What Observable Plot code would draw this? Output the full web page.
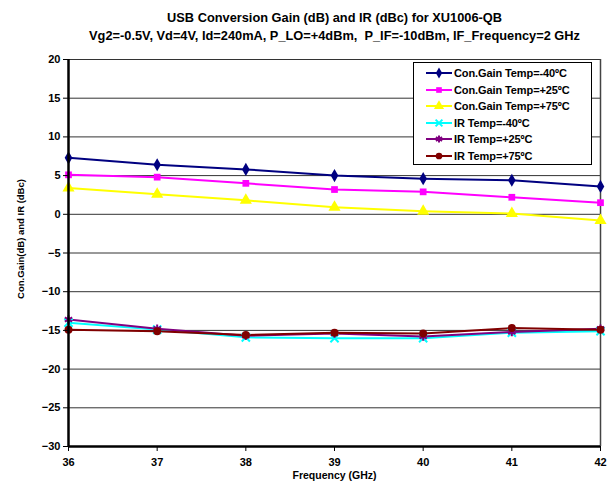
<!DOCTYPE html>
<html><head><meta charset="utf-8">
<script src="https://cdn.jsdelivr.net/npm/d3@7"></script>
<script src="https://cdn.jsdelivr.net/npm/@observablehq/plot@0.6"></script>
<style>
body{margin:0;background:#fff;font-family:"Liberation Sans",sans-serif;}
#wrap{position:relative;width:607px;height:488px;}
#legend{position:absolute;left:413px;top:62px;width:177px;height:101px;border:1.5px solid #000;background:#fff;font-weight:700;font-size:11px;font-family:"Liberation Sans",sans-serif;letter-spacing:-0.1px;}
#legend .row{position:absolute;left:0;height:16px;display:flex;align-items:center;}
#legend svg{display:block;}
</style></head>
<body><div id="wrap"><div id="chart"></div><div id="legend"></div></div>
<script>
const freqs = [36, 37, 38, 39, 40, 41, 42];
const gainM40 = [7.3, 6.4, 5.8, 5.0, 4.6, 4.4, 3.6];
const gainP25 = [5.1, 4.8, 4.0, 3.2, 2.9, 2.2, 1.5];
const gainP75 = [3.4, 2.6, 1.8, 0.9, 0.4, 0.1, -0.8];
const irM40 = [-14.0, -14.9, -15.9, -16.0, -16.0, -15.3, -15.1];
const irP25 = [-13.6, -14.8, -15.7, -15.4, -15.8, -15.2, -14.8];
const irP75 = [-14.9, -15.1, -15.6, -15.3, -15.4, -14.7, -14.9];
const seriesNames = ["Con.Gain Temp=-40ºC","Con.Gain Temp=+25ºC","Con.Gain Temp=+75ºC","IR Temp=-40ºC","IR Temp=+25ºC","IR Temp=+75ºC"];
const seriesColors = ["#000080","#FF00FF","#FFFF00","#00FFFF","#800080","#800000"];
const seriesSymbols = ["diamond","square","triangle","times","asterisk","circle"];
const seriesR = [4, 3.8, 4.5, 3.8, 4, 4];
const yTicks = [-30,-25,-20,-15,-10,-5,0,5,10,15,20];
const titleLines = ["USB Conversion Gain (dB) and IR (dBc) for XU1006-QB",
  "Vg2=-0.5V, Vd=4V, Id=240mA, P_LO=+4dBm,  P_IF=-10dBm, IF_Frequency=2 GHz"];
const xLabel = "Frequency (GHz)";
const yLabel = "Con.Gain(dB) and IR (dBc)";

const allSeries = [gainM40, gainP25, gainP75, irM40, irP25, irP75];
const data = [];
allSeries.forEach((vals, i) => vals.forEach((v, j) => data.push({freq: freqs[j], value: v, series: seriesNames[i], idx: i})));

const marks = [
  Plot.ruleY(yTicks.filter(t => t > -30), {stroke: "#333", strokeWidth: 1}),
  Plot.ruleX([42], {stroke: "#444", strokeWidth: 1.5}),
];
allSeries.forEach((vals, i) => {
  const d = data.filter(e => e.idx === i);
  marks.push(Plot.line(d, {x: "freq", y: "value", stroke: seriesColors[i], strokeWidth: 2}));
});
allSeries.forEach((vals, i) => {
  const d = data.filter(e => e.idx === i);
  const sym = seriesSymbols[i];
  const stroked = sym === "times" || sym === "asterisk";
  marks.push(Plot.dot(d, {x: "freq", y: "value", symbol: () => sym, r: seriesR[i],
    fill: stroked ? "none" : seriesColors[i], stroke: stroked ? seriesColors[i] : "none", strokeWidth: stroked ? 2 : 0}));
});
marks.push(
  Plot.axisY({ticks: yTicks, tickSize: 5, tickPadding: 3, stroke: "#000", label: null, fontSize: 11, fontWeight: "bold"}),
  Plot.axisX({ticks: freqs, tickSize: 5, tickPadding: 7, tickFormat: d => String(d), label: null, fontSize: 11, fontWeight: "bold"}),
  Plot.text([yLabel], {frameAnchor: "left", textAnchor: "middle", rotate: -90, dx: -48, dy: -14, text: d => d, fontSize: 9.5, fontWeight: "bold"}),
  Plot.text([xLabel], {frameAnchor: "bottom", dy: 32, text: d => d, fontSize: 10.5, fontWeight: "bold"}),
  Plot.ruleX([36], {stroke: "#000", strokeWidth: 2.5}),
  Plot.ruleY([-30], {stroke: "#000", strokeWidth: 2.5}),
  Plot.text([titleLines[0]], {frameAnchor: "top", dy: -47, text: d => d, fontSize: 12.8, fontWeight: "bold"}),
  Plot.text([titleLines[1]], {frameAnchor: "top", dy: -29, text: d => d, fontSize: 12.8, fontWeight: "bold"})
);

const chart = Plot.plot({
  width: 607, height: 488,
  marginLeft: 68, marginRight: 7, marginTop: 59, marginBottom: 42,
  x: {domain: [36, 42]},
  y: {domain: [-30, 20]},
  style: {fontFamily: "'Liberation Sans', sans-serif", fontWeight: "bold", color: "#000", background: "#fff"},
  marks
});
document.getElementById("chart").appendChild(chart);

const legend = document.getElementById("legend");
seriesNames.forEach((name, i) => {
  const row = document.createElement("div");
  row.className = "row";
  row.style.top = (2 + i * 16.5) + "px";
  row.style.left = "12px";
  const s = d3.create("svg").attr("width", 28).attr("height", 16);
  s.append("line").attr("x1", 0).attr("x2", 26).attr("y1", 8).attr("y2", 8).attr("stroke", seriesColors[i]).attr("stroke-width", 2);
  const symMap = {diamond: d3.symbolDiamond, square: d3.symbolSquare, triangle: d3.symbolTriangle, times: d3.symbolTimes, asterisk: d3.symbolAsterisk, circle: d3.symbolCircle};
  const stroked = seriesSymbols[i] === "times" || seriesSymbols[i] === "asterisk";
  s.append("path").attr("transform", "translate(13,8)")
    .attr("d", d3.symbol(symMap[seriesSymbols[i]], Math.PI * seriesR[i] * seriesR[i] * 0.7)())
    .attr("fill", stroked ? "none" : seriesColors[i]).attr("stroke", stroked ? seriesColors[i] : "none").attr("stroke-width", 2);
  row.appendChild(s.node());
  const t = document.createElement("span");
  t.textContent = name;
  row.appendChild(t);
  legend.appendChild(row);
});
</script></body></html>
